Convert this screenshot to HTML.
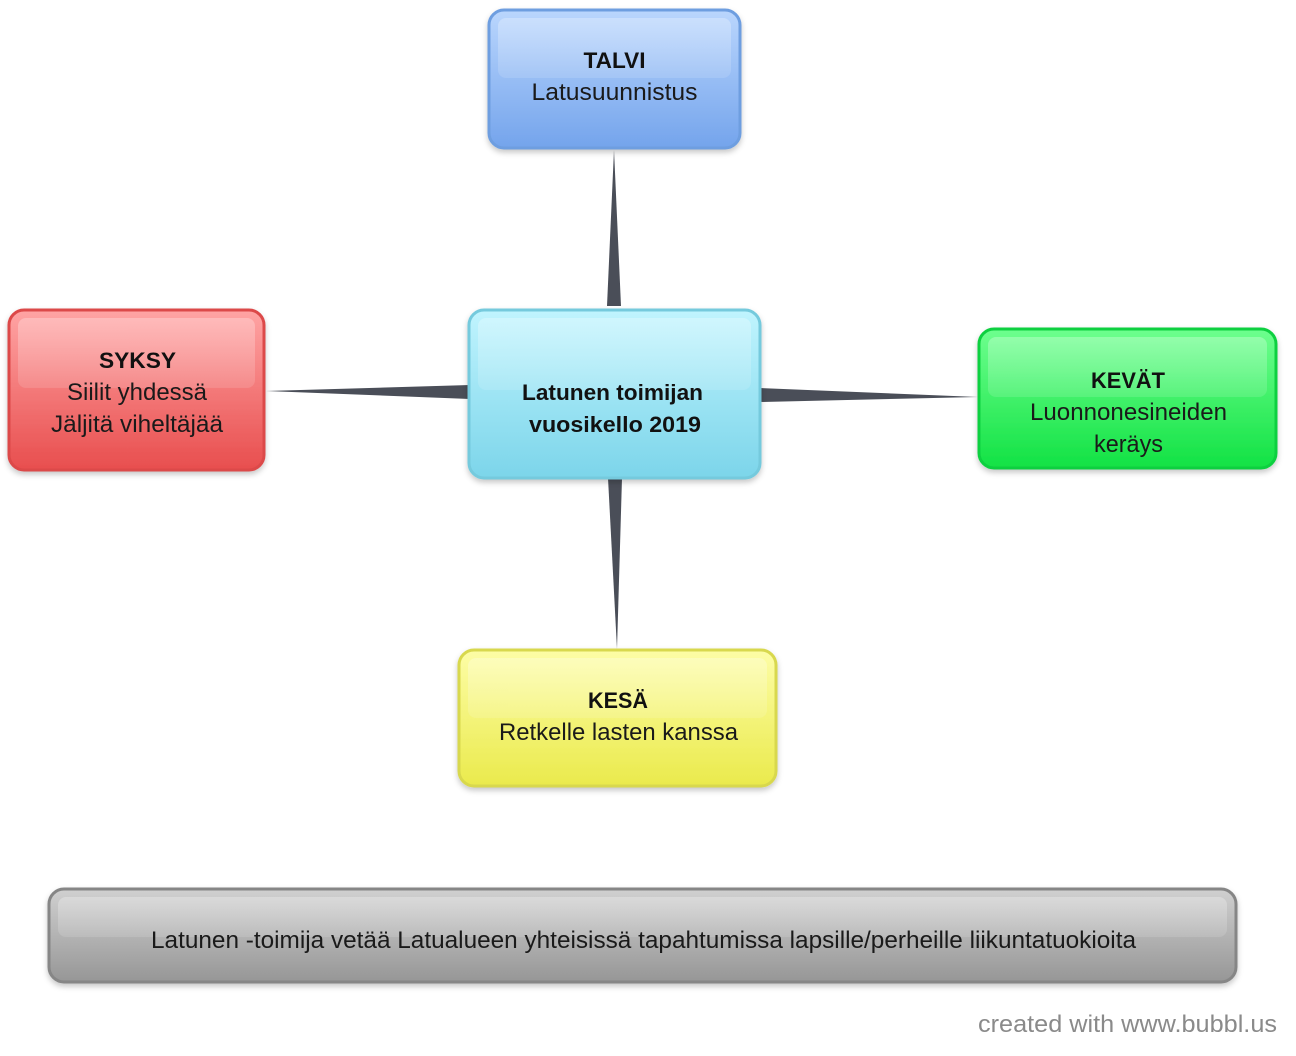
<!DOCTYPE html>
<html><head><meta charset="utf-8"><style>
html,body{margin:0;padding:0;background:#fff;}
svg{display:block;}
text{font-family:"Liberation Sans",sans-serif;}
.r{font-size:24px;fill:#1a1a1a;}
.b{font-size:22px;font-weight:bold;fill:#111;}
</style></head><body>
<svg width="1296" height="1056" viewBox="0 0 1296 1056" xmlns="http://www.w3.org/2000/svg">
<defs>
<linearGradient id="gBlue" x1="0" y1="0" x2="0" y2="1"><stop offset="0" stop-color="#bad6fd"/><stop offset="1" stop-color="#74a4ec"/></linearGradient>
<linearGradient id="gCyan" x1="0" y1="0" x2="0" y2="1"><stop offset="0" stop-color="#c0f4fe"/><stop offset="1" stop-color="#7cd5ea"/></linearGradient>
<linearGradient id="gRed" x1="0" y1="0" x2="0" y2="1"><stop offset="0" stop-color="#ffa4a4"/><stop offset="1" stop-color="#e84e4e"/></linearGradient>
<linearGradient id="gGreen" x1="0" y1="0" x2="0" y2="1"><stop offset="0" stop-color="#6eff8e"/><stop offset="1" stop-color="#12e244"/></linearGradient>
<linearGradient id="gYellow" x1="0" y1="0" x2="0" y2="1"><stop offset="0" stop-color="#fdfda6"/><stop offset="1" stop-color="#eaea4c"/></linearGradient>
<linearGradient id="gGray" x1="0" y1="0" x2="0" y2="1"><stop offset="0" stop-color="#d0d0d0"/><stop offset="1" stop-color="#969696"/></linearGradient>
<linearGradient id="hl" x1="0" y1="0" x2="0" y2="1"><stop offset="0" stop-color="#fff" stop-opacity="0.28"/><stop offset="1" stop-color="#fff" stop-opacity="0.12"/></linearGradient>
<filter id="sh" x="-10%" y="-10%" width="120%" height="130%"><feDropShadow dx="0" dy="3" stdDeviation="3" flood-color="#000" flood-opacity="0.22"/></filter>
</defs>

<!-- connectors -->
<g fill="#4a4e58">
<polygon points="614,150 607,306 621,306"/>
<polygon points="266,391 470,385 470,399"/>
<polygon points="978,397 760,388 760,402"/>
<polygon points="617,649 608,478 622,478"/>
</g>

<!-- TALVI -->
<rect x="489" y="10" width="251" height="138" rx="15" fill="url(#gBlue)" stroke="#6e9ee0" stroke-width="3" filter="url(#sh)"/>
<rect x="498" y="18" width="233" height="60" rx="8" fill="url(#hl)"/>
<text class="b" x="614.5" y="68" text-anchor="middle" textLength="62" lengthAdjust="spacingAndGlyphs">TALVI</text>
<text class="r" x="614.5" y="100" text-anchor="middle" textLength="166" lengthAdjust="spacingAndGlyphs">Latusuunnistus</text>

<!-- center -->
<rect x="469" y="310" width="291" height="168" rx="15" fill="url(#gCyan)" stroke="#74cadd" stroke-width="3" filter="url(#sh)"/>
<rect x="478" y="318" width="273" height="72" rx="8" fill="url(#hl)"/>
<text class="b" x="612.5" y="400" text-anchor="middle" textLength="181" lengthAdjust="spacingAndGlyphs">Latunen toimijan</text>
<text class="b" x="615" y="432" text-anchor="middle" textLength="172" lengthAdjust="spacingAndGlyphs">vuosikello 2019</text>

<!-- SYKSY -->
<rect x="9" y="310" width="255" height="160" rx="15" fill="url(#gRed)" stroke="#dc4a4a" stroke-width="3" filter="url(#sh)"/>
<rect x="18" y="318" width="237" height="70" rx="8" fill="url(#hl)"/>
<text class="b" x="137.5" y="368" text-anchor="middle" textLength="77" lengthAdjust="spacingAndGlyphs">SYKSY</text>
<text class="r" x="137" y="400" text-anchor="middle" textLength="140" lengthAdjust="spacingAndGlyphs">Siilit yhdessä</text>
<text class="r" x="137" y="432" text-anchor="middle" textLength="172" lengthAdjust="spacingAndGlyphs">Jäljitä viheltäjää</text>

<!-- KEVÄT -->
<rect x="979" y="329" width="297" height="139" rx="15" fill="url(#gGreen)" stroke="#10d040" stroke-width="3" filter="url(#sh)"/>
<rect x="988" y="337" width="279" height="60" rx="8" fill="url(#hl)"/>
<text class="b" x="1128" y="388" text-anchor="middle" textLength="74" lengthAdjust="spacingAndGlyphs">KEVÄT</text>
<text class="r" x="1128.5" y="420" text-anchor="middle" textLength="197" lengthAdjust="spacingAndGlyphs">Luonnonesineiden</text>
<text class="r" x="1128.5" y="452" text-anchor="middle" textLength="69" lengthAdjust="spacingAndGlyphs">keräys</text>

<!-- KESÄ -->
<rect x="459" y="650" width="317" height="136" rx="15" fill="url(#gYellow)" stroke="#d8d84e" stroke-width="3" filter="url(#sh)"/>
<rect x="468" y="658" width="299" height="60" rx="8" fill="url(#hl)"/>
<text class="b" x="618" y="708" text-anchor="middle" textLength="60" lengthAdjust="spacingAndGlyphs">KESÄ</text>
<text class="r" x="618.5" y="740" text-anchor="middle" textLength="239" lengthAdjust="spacingAndGlyphs">Retkelle lasten kanssa</text>

<!-- bottom -->
<rect x="49" y="889" width="1187" height="93" rx="15" fill="url(#gGray)" stroke="#868686" stroke-width="3" filter="url(#sh)"/>
<rect x="58" y="897" width="1169" height="40" rx="8" fill="url(#hl)"/>
<text class="r" x="643.5" y="948" text-anchor="middle" textLength="985" lengthAdjust="spacingAndGlyphs">Latunen -toimija vetää Latualueen yhteisissä tapahtumissa lapsille/perheille liikuntatuokioita</text>

<text x="1277" y="1032" text-anchor="end" font-size="24" fill="#8a8a8a" textLength="299" lengthAdjust="spacingAndGlyphs">created with www.bubbl.us</text>
</svg>
</body></html>
